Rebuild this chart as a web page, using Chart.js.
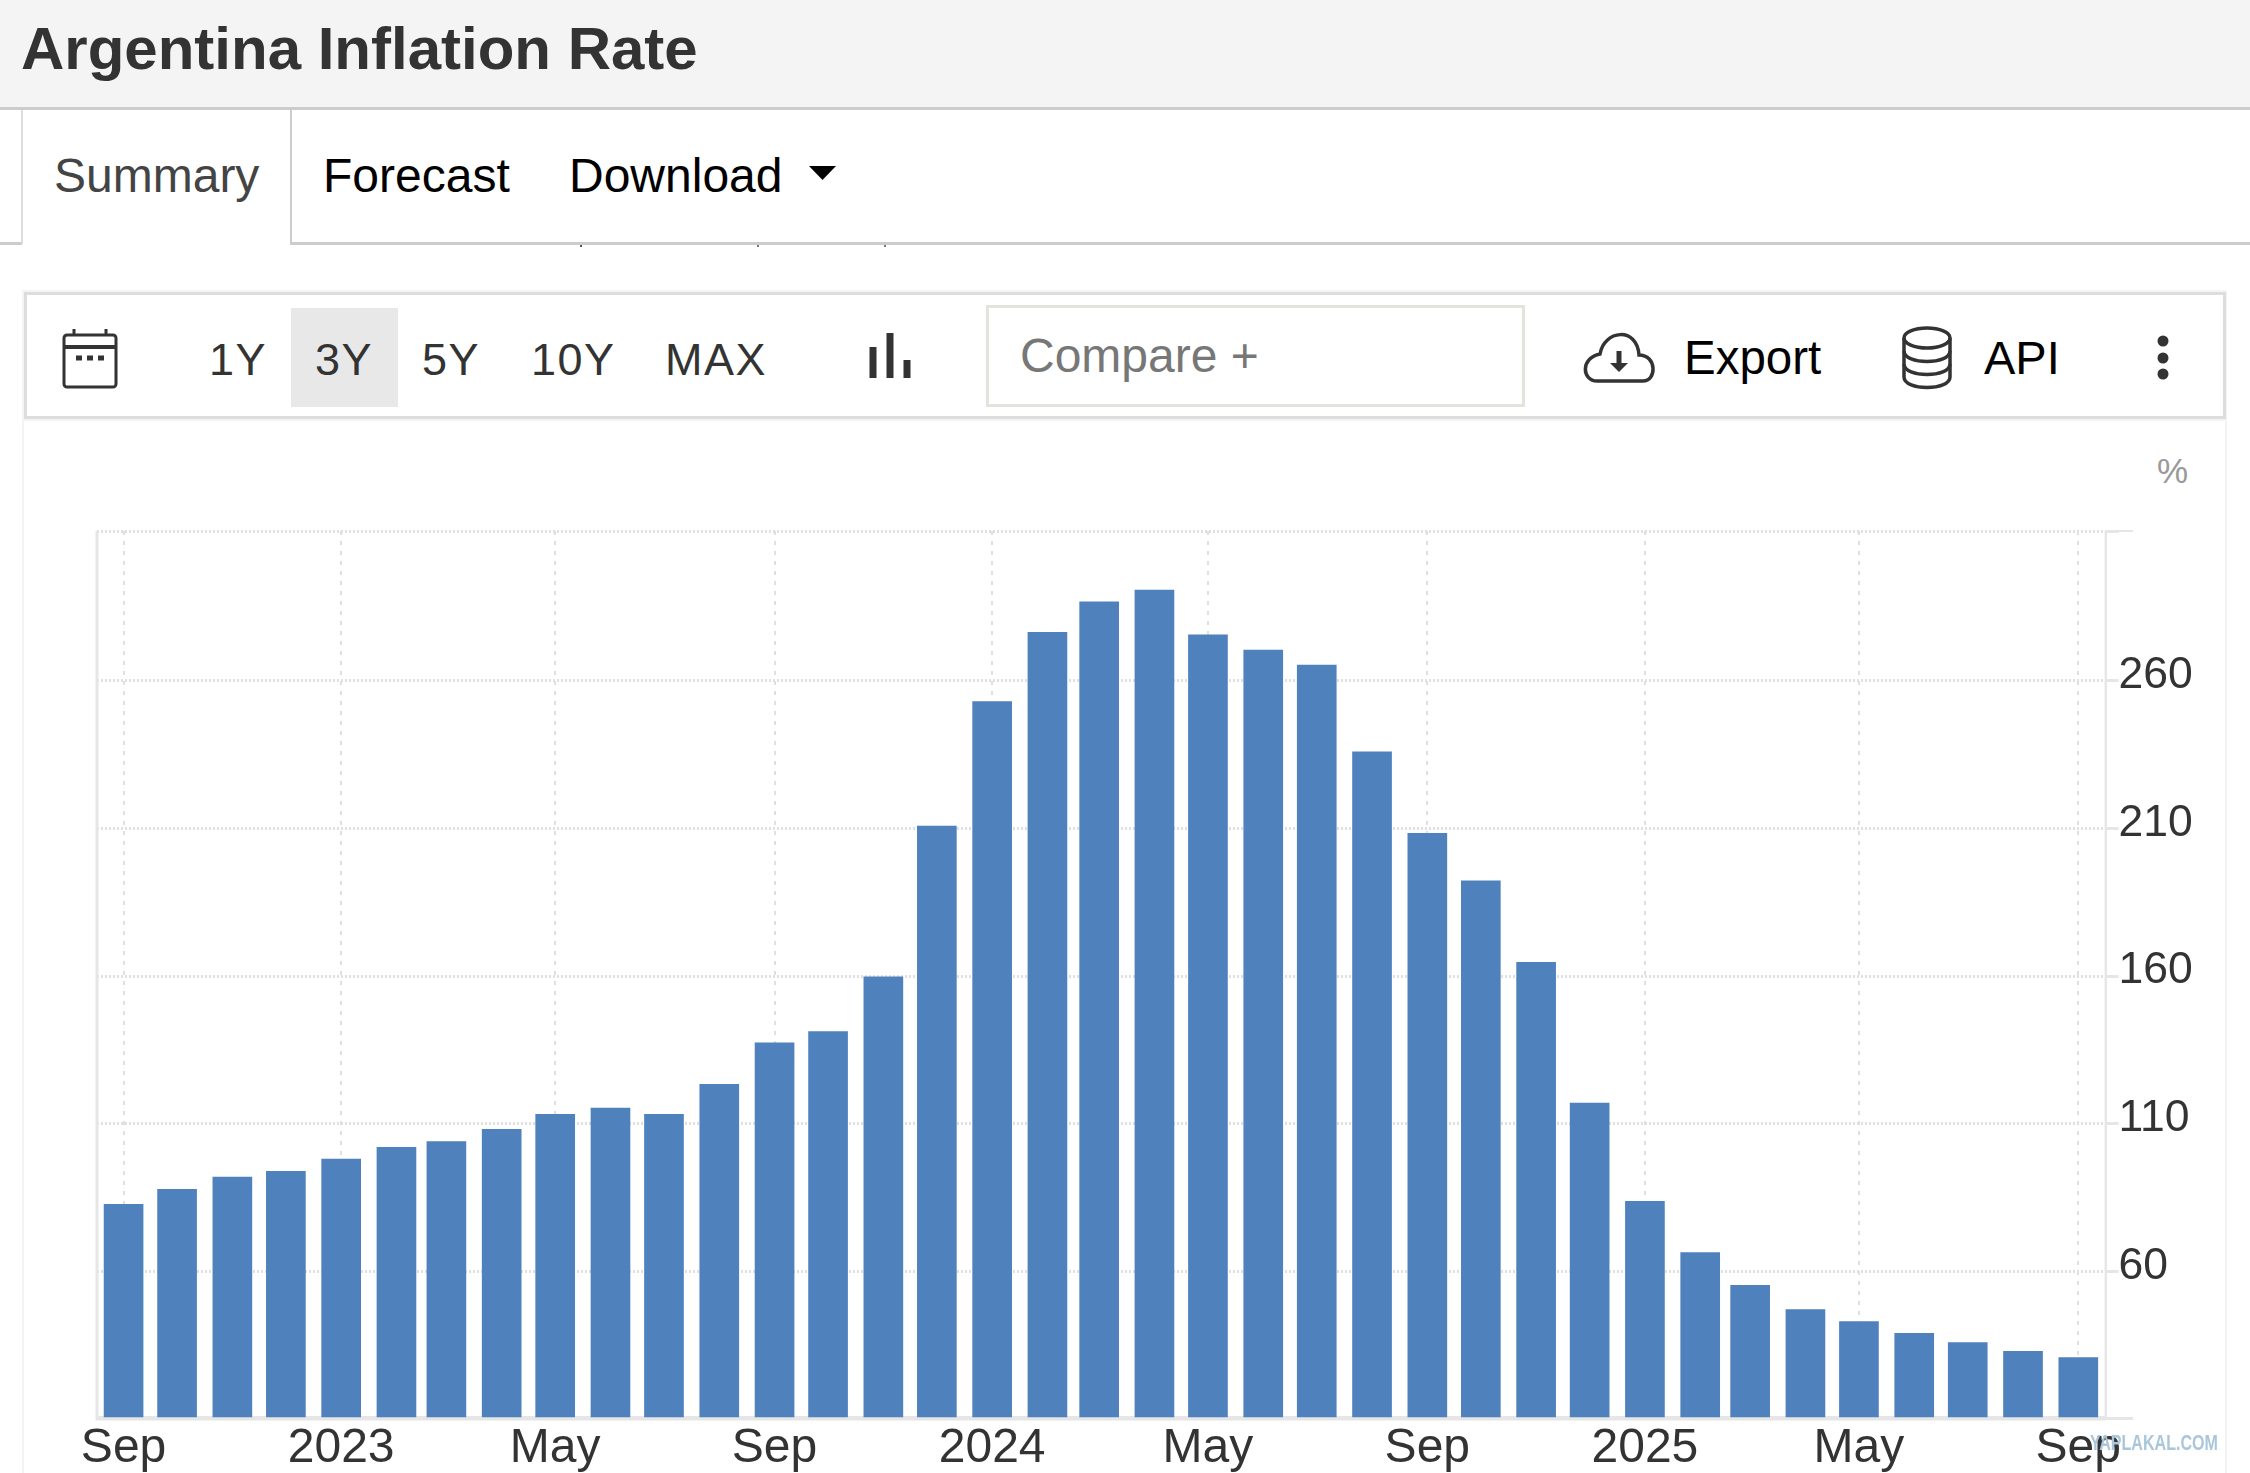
<!DOCTYPE html>
<html>
<head>
<meta charset="utf-8">
<title>Argentina Inflation Rate</title>
<script src="https://cdn.jsdelivr.net/npm/chart.js@4"></script>
<style>
html, body { margin: 0; padding: 0; background: #fff; }
body { width: 2250px; height: 1473px; position: relative; overflow: hidden; font-family: "Liberation Sans", Arial, sans-serif; }
.abs { position: absolute; white-space: nowrap; }
.line { position: absolute; }
.btn { font-size: 45px; line-height: 52px; color: #333; letter-spacing: 1.500px; }
svg { position: absolute; overflow: visible; }
#chart { position: absolute; left: 0; top: 0; }
</style>
</head>
<body>
<!-- page header -->
<div class="line" style="left:0;top:0;width:2250px;height:107px;background:#f4f4f4"></div>
<div class="line" style="left:0;top:107px;width:2250px;height:3px;background:#ccc"></div>
<div class="abs" id="title" style="left:21px;top:14px;font-size:60px;line-height:70px;font-weight:bold;color:#333">Argentina Inflation Rate</div>

<!-- tabs -->
<div class="line" style="left:0;top:242px;width:22px;height:3px;background:#ccc"></div>
<div class="line" style="left:290px;top:242px;width:1960px;height:3px;background:#ccc"></div>
<div class="line" style="left:21px;top:110px;width:2px;height:134px;background:#ddd"></div>
<div class="line" style="left:290px;top:110px;width:2px;height:134px;background:#ccc"></div>
<div class="line" style="left:580px;top:245px;width:2px;height:2px;background:#555"></div>
<div class="line" style="left:757px;top:245px;width:2px;height:2px;background:#777"></div>
<div class="line" style="left:884px;top:245px;width:2px;height:2px;background:#777"></div>
<div class="abs" style="left:54px;top:148px;font-size:48px;line-height:56px;color:#444">Summary</div>
<div class="abs" style="left:323px;top:148px;font-size:48px;line-height:56px;color:#000">Forecast</div>
<div class="abs" style="left:569px;top:148px;font-size:48px;line-height:56px;color:#000">Download</div>
<svg style="left:0;top:0" width="1" height="1"><path d="M809 166H836L822.500 180Z" fill="#000"/></svg>

<!-- toolbar -->
<div class="line" style="left:22px;top:290px;width:2201px;height:127px;border:2px solid #f4f4f4"></div>
<div class="line" style="left:24px;top:292px;width:2196px;height:121px;border:3px solid #ddd"></div>
<div class="line" style="left:22px;top:420px;width:2px;height:1053px;background:#f3f3f3"></div>
<div class="line" style="left:2225px;top:420px;width:2px;height:1053px;background:#f3f3f3"></div>
<div class="line" style="left:291px;top:308px;width:107px;height:99px;background:#e8e8e8"></div>
<div class="abs btn" style="left:209px;top:334px">1Y</div>
<div class="abs btn" style="left:315px;top:334px">3Y</div>
<div class="abs btn" style="left:422px;top:334px">5Y</div>
<div class="abs btn" style="left:531px;top:334px">10Y</div>
<div class="abs btn" style="left:665px;top:334px">MAX</div>

<svg style="left:0;top:0" width="1" height="1" fill="none" stroke="#333">
  <!-- calendar -->
  <rect x="64" y="335" width="52" height="52" rx="3" stroke-width="3"/>
  <path d="M64 347H116" stroke-width="4"/>
  <path d="M74 329V336M106 329V336" stroke-width="3"/>
  <path d="M76 358H82M87 358H93M98 358H104" stroke-width="5"/>
  <!-- bar type icon -->
  <path d="M873 347V378M890 333V378M907 360V378" stroke-width="7"/>
  <!-- cloud -->
  <path d="M1597 381H1643C1657 381 1657 355 1639 355C1637 326 1604 330 1600 354C1580 358 1582 381 1597 381Z" stroke-width="3.500"/>
  <path d="M1619 351V364" stroke-width="5"/>
  <path d="M1610 363H1628L1619 372Z" fill="#333" stroke="none"/>
  <!-- database -->
  <ellipse cx="1927" cy="338" rx="23" ry="10" stroke-width="3.500"/>
  <path d="M1904 338V377C1904 391 1950 391 1950 377V338" stroke-width="3.500"/>
  <path d="M1904 351C1904 365 1950 365 1950 351M1904 364C1904 378 1950 378 1950 364" stroke-width="3.500"/>
  <!-- dots -->
  <circle cx="2163" cy="341" r="5.500" fill="#333" stroke="none"/>
  <circle cx="2163" cy="358" r="5.500" fill="#333" stroke="none"/>
  <circle cx="2163" cy="374" r="5.500" fill="#333" stroke="none"/>
</svg>

<div class="line" style="left:986px;top:305px;width:533px;height:96px;border:3px solid #e4e4df"></div>
<div class="abs" style="left:1020px;top:328px;font-size:48px;line-height:56px;color:#777">Compare +</div>
<div class="abs" style="left:1684px;top:330px;font-size:47.500px;line-height:56px;color:#000">Export</div>
<div class="abs" style="left:1984px;top:330px;font-size:47px;line-height:56px;color:#000">API</div>
<div class="abs" style="left:2157px;top:451px;font-size:35px;line-height:40px;color:#999">%</div>

<!-- chart -->
<canvas id="chart" width="2250" height="1473"></canvas>

<div class="line" style="left:2105px;top:530px;width:28px;height:2px;background:#e6e6e6"></div>
<div class="line" style="left:2105px;top:1417px;width:28px;height:3px;background:#e6e6e6"></div>
<div class="abs" style="left:2090px;top:1431px;font-size:22px;line-height:24px;font-weight:bold;color:#a9c6da;transform:scaleX(0.730);transform-origin:left">YAPLAKAL.COM</div>

<script>
// Monthly readings, Sep 2022 to Sep 2025 (first of the month)
const months = [
    '2022-09-01','2022-10-01','2022-11-01','2022-12-01',
    '2023-01-01','2023-02-01','2023-03-01','2023-04-01','2023-05-01','2023-06-01',
    '2023-07-01','2023-08-01','2023-09-01','2023-10-01','2023-11-01','2023-12-01',
    '2024-01-01','2024-02-01','2024-03-01','2024-04-01','2024-05-01','2024-06-01',
    '2024-07-01','2024-08-01','2024-09-01','2024-10-01','2024-11-01','2024-12-01',
    '2025-01-01','2025-02-01','2025-03-01','2025-04-01','2025-05-01','2025-06-01',
    '2025-07-01','2025-08-01','2025-09-01'
];
const inflation = [
    82.7, 87.8, 91.9, 93.9,
    98, 102, 104, 108.1, 113.2, 115.3,
    113.2, 123.4, 137.4, 141.2, 159.8, 210.8,
    253, 276.5, 286.8, 290.8, 275.6, 270.5,
    265.4, 236, 208.4, 192.3, 164.7, 117,
    83.7, 66.4, 55.3, 47.1, 43, 39,
    35.9, 32.9, 30.8
];
const xTickDates = ['2022-09-01','2023-01-01','2023-05-01','2023-09-01','2024-01-01','2024-05-01','2024-09-01','2025-01-01','2025-05-01','2025-09-01'];
const xTickLabels = ['Sep','2023','May','Sep','2024','May','Sep','2025','May','Sep'];
const yTickValues = [60, 110, 160, 210, 260];

const yMin = 10.5;
const yMax = 310.8;

// the time axis is linear in days, so short months give closer bars
const dayOf = d => (Date.parse(d) - Date.parse(months[0])) / 86400000;

const gridDotted = '#e0e0e0';
const font = '"Liberation Sans", Arial, sans-serif';

const chart = new Chart(document.getElementById('chart').getContext('2d'), {
    type: 'bar',
    data: {
        datasets: [{
            data: months.map((m, i) => ({ x: dayOf(m), y: inflation[i] })),
            backgroundColor: '#4f81bd',
            barThickness: 39,
            borderWidth: 0
        }]
    },
    options: {
        responsive: false,
        animation: false,
        devicePixelRatio: 1,
        layout: { padding: { left: 97, top: 531, right: 0, bottom: 0 } },
        plugins: { legend: { display: false }, tooltip: { enabled: false } },
        scales: {
            x: {
                type: 'linear',
                offset: false,
                min: -14.9,
                max: 1111.3,
                afterBuildTicks: scale => { scale.ticks = xTickDates.map(d => ({ value: dayOf(d) })); },
                afterFit: scale => { scale.height = 55.5; },
                grid: { offset: false, color: gridDotted, lineWidth: 2, drawTicks: false },
                border: { color: '#e6e6e6', width: 3, dash: [4, 6] },
                ticks: {
                    autoSkip: false,
                    maxRotation: 0,
                    padding: 2,
                    color: '#333',
                    font: { family: font, size: 48 },
                    callback: (v, i) => xTickLabels[i]
                }
            },
            y: {
                position: 'right',
                min: yMin,
                max: yMax,
                afterBuildTicks: scale => { scale.ticks = yTickValues.concat([yMax]).map(v => ({ value: v })); },
                afterFit: scale => { scale.width = 144.4; },
                grid: { color: gridDotted, lineWidth: 3, tickLength: 13, tickColor: '#e6e6e6' },
                border: { color: '#e6e6e6', width: 2, dash: [2, 2] },
                ticks: {
                    padding: 0,
                    labelOffset: -5,
                    color: '#333',
                    font: { family: font, size: 44.500 },
                    callback: v => yTickValues.includes(v) ? String(v) : ''
                }
            }
        }
    },
    plugins: [{
        // solid frame on the left, right and bottom, drawn over the dashed grid
        id: 'frame',
        afterDatasetsDraw(c) {
            const a = c.chartArea, g = c.ctx;
            g.save();
            g.strokeStyle = '#e6e6e6';
            g.lineWidth = 3;
            g.beginPath();
            g.moveTo(a.left, a.top);
            g.lineTo(a.left, a.bottom + 1.5);
            g.lineTo(a.right, a.bottom + 1.5);
            g.stroke();
            g.lineWidth = 2;
            g.beginPath();
            g.moveTo(a.right, a.top);
            g.lineTo(a.right, a.bottom);
            g.stroke();
            g.restore();
        }
    }]
});
</script>
</body>
</html>
